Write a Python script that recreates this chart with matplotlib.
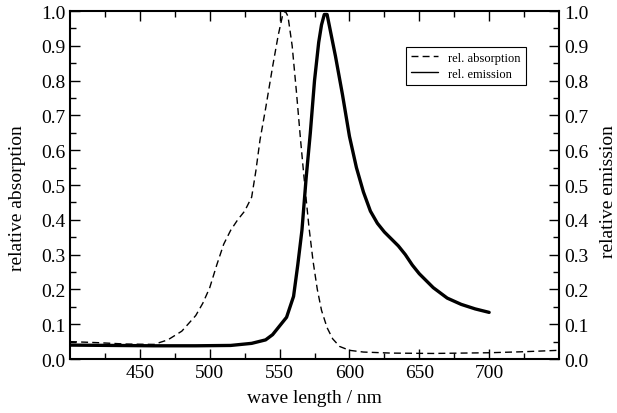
import matplotlib
matplotlib.use("Agg")
import matplotlib.pyplot as plt

# absorption spectrum (dashed)
abs_nm = [400, 420, 440, 460, 470, 480, 490, 495, 500, 505, 510, 515, 520,
          525, 530, 533, 536, 540, 545, 549, 552, 554, 556, 559, 562, 565,
          568, 571, 574, 577, 580, 584, 588, 593, 600, 610, 630, 660, 700,
          725, 750]
abs_val = [0.05, 0.047, 0.043, 0.042, 0.055, 0.08, 0.125, 0.16, 0.205, 0.27,
           0.33, 0.37, 0.40, 0.425, 0.465, 0.54, 0.63, 0.72, 0.84, 0.93,
           0.985, 1.0, 0.985, 0.90, 0.77, 0.63, 0.50, 0.38, 0.28, 0.20, 0.14,
           0.09, 0.058, 0.036, 0.025, 0.02, 0.017, 0.016, 0.018, 0.021, 0.025]

# emission spectrum (solid)
em_nm = [400, 430, 460, 490, 515, 530, 540, 545, 550, 555, 560, 563, 566,
         569, 572, 575, 578, 580, 582, 584, 586, 590, 595, 600, 605, 610,
         615, 620, 625, 630, 635, 640, 645, 650, 660, 670, 680, 690, 700]
em_val = [0.04, 0.039, 0.038, 0.038, 0.039, 0.045, 0.055, 0.07, 0.095, 0.12,
          0.18, 0.27, 0.37, 0.52, 0.65, 0.80, 0.91, 0.96, 0.99, 0.99, 0.95,
          0.87, 0.76, 0.64, 0.55, 0.48, 0.425, 0.39, 0.365, 0.345, 0.325,
          0.30, 0.27, 0.245, 0.205, 0.175, 0.157, 0.144, 0.134]

plt.rcParams['font.family'] = ['Liberation Serif', 'DejaVu Serif']

fig = plt.figure(figsize=(6.17, 4.14), dpi=100)
ax = fig.add_axes([0.1135, 0.1304, 0.7925, 0.8406])

ax.plot(abs_nm, abs_val, color='black', lw=1.0, ls=(0, (5, 3)), label='rel. absorption')
ax.plot(em_nm, em_val, color='black', lw=2.4, label='rel. emission',
        solid_joinstyle='round', solid_capstyle='round')

ax.set_xlim(400, 750)
ax.set_ylim(0, 1)
ax.set_xticks([450, 500, 550, 600, 650, 700])
ax.set_xticks([425, 475, 525, 575, 625, 675, 725], minor=True)
yt = [0.0, 0.1, 0.2, 0.3, 0.4, 0.5, 0.6, 0.7, 0.8, 0.9, 1.0]
ax.set_yticks(yt)
ax.set_yticklabels([f"{v:.1f}" for v in yt])
ax.set_yticks([0.05 + 0.1 * i for i in range(10)], minor=True)
ax.tick_params(which='both', direction='in', top=True, right=True,
               labelright=True, labelsize=14, width=1.0)
ax.tick_params(which='major', length=7)
ax.tick_params(which='minor', length=4)
for sp in ax.spines.values():
    sp.set_linewidth(1.5)

ax.set_xlabel('wave length / nm', fontsize=14, labelpad=6)
fig.text(0.028, 0.522, 'relative absorption', fontsize=14, rotation=90,
         ha='center', va='center')
fig.text(0.986, 0.537, 'relative emission', fontsize=14, rotation=90,
         ha='center', va='center')

leg = ax.legend(loc='upper right', bbox_to_anchor=(0.945, 0.915), fontsize=9,
                frameon=True, fancybox=False, edgecolor='black', framealpha=1,
                handlelength=2.2, borderpad=0.4, labelspacing=0.3)
leg.get_frame().set_linewidth(0.8)
for h in leg.get_lines():
    h.set_linewidth(1.0)

fig.savefig('out.png', dpi=100)
